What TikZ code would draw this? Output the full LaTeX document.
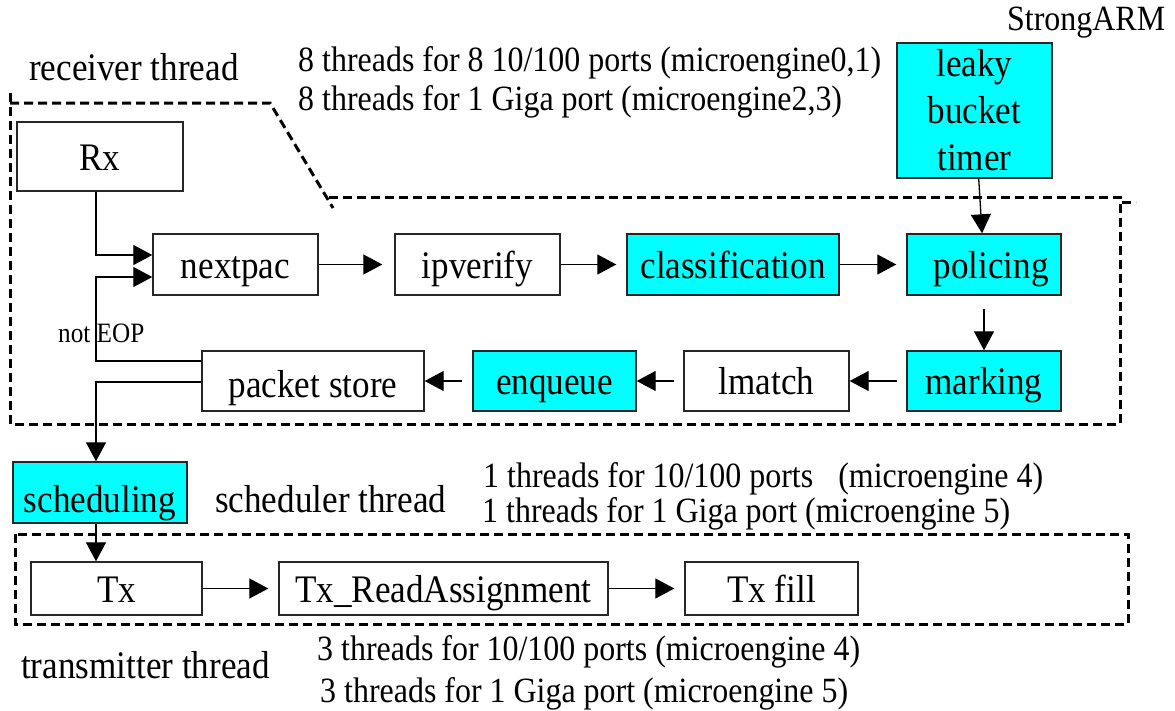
\documentclass[tikz,border=0pt]{standalone}
\usepackage{fontspec}
\setmainfont{Liberation Serif}[FakeStretch=0.9]
\usetikzlibrary{arrows.meta}

\definecolor{boxcyan}{HTML}{00FFFF}

\tikzset{
  box/.style={draw=black!85, line width=1.4pt, inner sep=0pt,
    font=\fontsize{39}{47}\selectfont},
  oneline/.style={box, text height=27pt, text depth=0pt},
  hot/.style={fill=boxcyan},
  arr/.style={line width=1.3pt, draw=black,
    -{Triangle[length=19pt,width=20pt]}},
  gap/.style={shorten >=10pt},
  zone/.style={line width=3pt, dash pattern=on 9pt off 5pt},
  label/.style={anchor=base west, inner sep=0pt,
    font=\fontsize{39}{47}\selectfont},
  note/.style={anchor=base west, inner sep=0pt,
    font=\fontsize{35.5}{40}\selectfont},
}

\begin{document}
\begin{tikzpicture}[x=1pt, y=-1pt]
\useasboundingbox (0,0) rectangle (1175,710);

% thread zones
\draw[zone] (10,93) -- (10,424) -- (1120,424) -- (1120,197) -- (327,197);
\draw[zone] (10,103) -- (270,103) -- (333,208);
\draw[zone] (1122,202) -- (1136,202);
\draw[zone] (15,534) rectangle (1128,624);

% receiver pipeline
\node[oneline, minimum width=166pt, minimum height=69pt] (rx) at (100,156.5) {Rx};
\node[oneline, minimum width=165pt, minimum height=61pt] (nextpac) at (235.5,264.5) {nextpac};
\node[oneline, minimum width=165pt, minimum height=61pt] (ipverify) at (477.5,264.5) {ipverify};
\node[oneline, hot, minimum width=212pt, minimum height=61pt] (classify) at (733,264.5) {classification};
\node[oneline, hot, minimum width=154pt, minimum height=61pt] (policing) at (984,264.5) {\hspace*{14pt}policing};
\node[oneline, hot, minimum width=154pt, minimum height=60pt] (marking) at (984,381) {marking};
\node[oneline, minimum width=165pt, minimum height=60pt] (lmatch) at (766.5,381) {lmatch};
\node[oneline, hot, minimum width=163pt, minimum height=60pt] (enqueue) at (554.5,381) {enqueue};
\node[oneline, text height=33pt, minimum width=222pt, minimum height=60pt] (pstore) at (313,381) {packet store};
\node[box, hot, align=center, minimum width=155pt, minimum height=135pt] (leaky) at (974.5,110.5) {leaky\\bucket\\timer};

% scheduler and transmitter
\node[oneline, hot, text height=39pt, minimum width=174pt, minimum height=61pt] (sched) at (100,492.5) {scheduling};
\node[oneline, minimum width=171pt, minimum height=53pt] (tx) at (116.5,588.5) {Tx};
\node[oneline, minimum width=329pt, minimum height=53pt] (txread) at (443.5,588.5) {Tx\_ReadAssignment};
\node[oneline, minimum width=173pt, minimum height=53pt] (txfill) at (771.5,588.5) {Tx fill};

% vertical bus on the left
\coordinate (lx) at (96,0);
\coordinate (np1) at ([yshift=9.5pt]nextpac.west);
\coordinate (np2) at ([yshift=-12.5pt]nextpac.west);
\coordinate (ps1) at ([yshift=20pt]pstore.west);
\coordinate (ps2) at ([yshift=-1pt]pstore.west);

\draw[arr] (lx |- rx.south) |- (np1);
\draw[arr] (ps1) -| (lx |- np2) -- (np2);
\draw[arr] (ps2) -| (lx |- sched.north);
\draw[arr] (lx |- sched.south) -- (lx |- tx.north);

% receiver flow
\draw[arr, shorten >=12pt] (nextpac) -- (ipverify);
\draw[arr, gap] (ipverify) -- (classify);
\draw[arr, gap] (classify) -- (policing);
\draw[arr] (leaky) -- (policing);
\draw[arr, shorten <=13pt] (policing) -- (marking);
\draw[arr, shorten <=9pt] (marking) -- (lmatch);
\draw[arr, shorten <=9pt] (lmatch) -- (enqueue);
\draw[arr, shorten <=10pt] (enqueue) -- (pstore);

% transmitter flow
\draw[arr, gap] (tx) -- (txread);
\draw[arr, gap] (txread) -- (txfill);

% labels
\node[anchor=base west, inner sep=0pt, font=\fontsize{28}{30}\selectfont] (eop) at (58,342) {not EOP};
\node[label] (rxlab) at (29,80) {receiver thread};
\node[label] (schedlab) at (215,512) {scheduler thread};
\node[label] (txlab) at (21,678) {transmitter thread};
\node[note] (arm) at (1007,30) {StrongARM};
\node[note] (rxn1) at (298,71) {8 threads for 8 10/100 ports (microengine0,1)};
\node[note] (rxn2) at (298,110) {8 threads for 1 Giga port (microengine2,3)};
\node[note] (scn1) at (483,487) {1 threads for 10/100 ports\hspace{17pt} (microengine 4)};
\node[note] (scn2) at (482,522) {1 threads for 1 Giga port (microengine 5)};
\node[note] (txn1) at (317,660) {3 threads for 10/100 ports (microengine 4)};
\node[note] (txn2) at (320,702) {3 threads for 1 Giga port (microengine 5)};
\end{tikzpicture}
\end{document}
